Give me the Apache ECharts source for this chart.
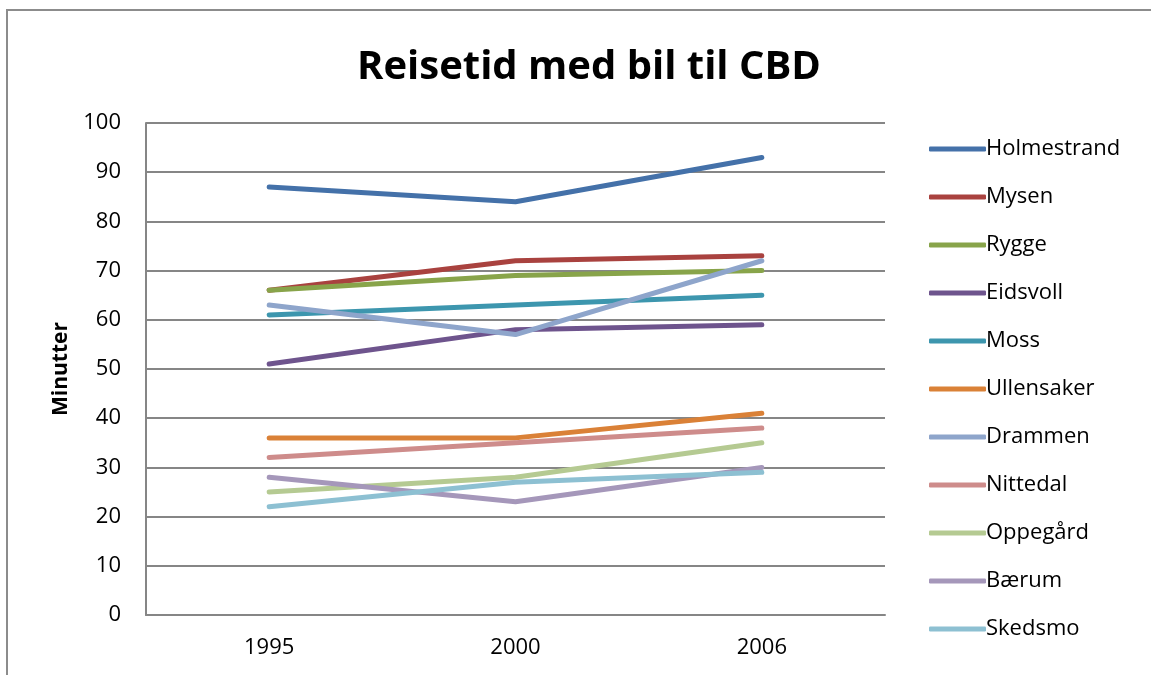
<!DOCTYPE html>
<html>
<head>
<meta charset="utf-8">
<script src="https://cdn.jsdelivr.net/npm/echarts@6/dist/echarts.min.js"></script>
<style>
  html, body { margin: 0; padding: 0; background: #fff; }
  #chart { width: 1151px; height: 675px; }
</style>
</head>
<body>
<div id="chart"></div>
<script>
const years = ['1995', '2000', '2006']
const names = ['Holmestrand', 'Mysen', 'Rygge', 'Eidsvoll', 'Moss', 'Ullensaker', 'Drammen', 'Nittedal', 'Oppegård', 'Bærum', 'Skedsmo']
const holmestrand = [87, 84, 93]
const mysen = [66, 72, 73]
const rygge = [66, 69, 70]
const eidsvoll = [51, 58, 59]
const moss = [61, 63, 65]
const ullensaker = [36, 36, 41]
const drammen = [63, 57, 72]
const nittedal = [32, 35, 38]
const oppegard = [25, 28, 35]
const baerum = [28, 23, 30]
const skedsmo = [22, 27, 29]
const yTicks = [0, 10, 20, 30, 40, 50, 60, 70, 80, 90, 100]

const values = [holmestrand, mysen, rygge, eidsvoll, moss, ullensaker, drammen, nittedal, oppegard, baerum, skedsmo]
const colors = ['#4471A9', '#A9423F', '#88A44A', '#6E548D', '#3D96AE', '#DA8137', '#8EA5CB', '#CE8C8B', '#B5CA92', '#A597BA', '#8DC0D2']
const font = '"Open Sans", "Noto Sans", sans-serif'

const chartDom = document.getElementById('chart')
const myChart = echarts.init(chartDom)

let option = {
  animation: false,
  color: colors,
  textStyle: { fontFamily: font },
  title: {
    text: 'Reisetid med bil til CBD',
    left: 352,
    top: 43,
    textStyle: { fontSize: 40, fontWeight: 'bold', color: '#000', fontFamily: font }
  },
  graphic: [{
    type: 'rect',
    shape: { x: 7, y: 10, width: 1300, height: 800 },
    style: { fill: 'none', stroke: '#8c8c8c', lineWidth: 2 },
    silent: true
  }],
  legend: {
    orient: 'vertical',
    left: 924,
    top: 133,
    icon: 'roundRect',
    itemWidth: 57,
    itemHeight: 5,
    itemGap: 26,
    data: names,
    textStyle: { fontSize: 22, color: '#000', lineHeight: 22, padding: [0, 0, 0, -5] }
  },
  grid: {
    left: 146,
    top: 123,
    right: 266,
    bottom: 60
  },
  xAxis: {
    type: 'category',
    data: years,
    boundaryGap: true,
    axisLine: { show: true, lineStyle: { color: '#868686', width: 2 } },
    axisTick: { show: false },
    axisLabel: { fontSize: 22, color: '#000', margin: 22 }
  },
  yAxis: {
    type: 'value',
    min: yTicks[0],
    max: yTicks[yTicks.length - 1],
    interval: 10,
    name: 'Minutter',
    nameLocation: 'middle',
    nameGap: 74,
    nameTextStyle: { fontSize: 21, fontWeight: 'bold', color: '#000' },
    axisLine: { show: true, lineStyle: { color: '#868686', width: 2 } },
    axisTick: { show: false },
    axisLabel: { fontSize: 22, color: '#000', margin: 25 },
    splitLine: { lineStyle: { color: '#868686', width: 2 } }
  },
  series: names.map((n, i) => ({
    name: n,
    type: 'line',
    data: values[i],
    symbol: 'none',
    lineStyle: { width: 5, cap: 'round', join: 'round' }
  }))
}

option && myChart.setOption(option)
</script>
</body>
</html>
